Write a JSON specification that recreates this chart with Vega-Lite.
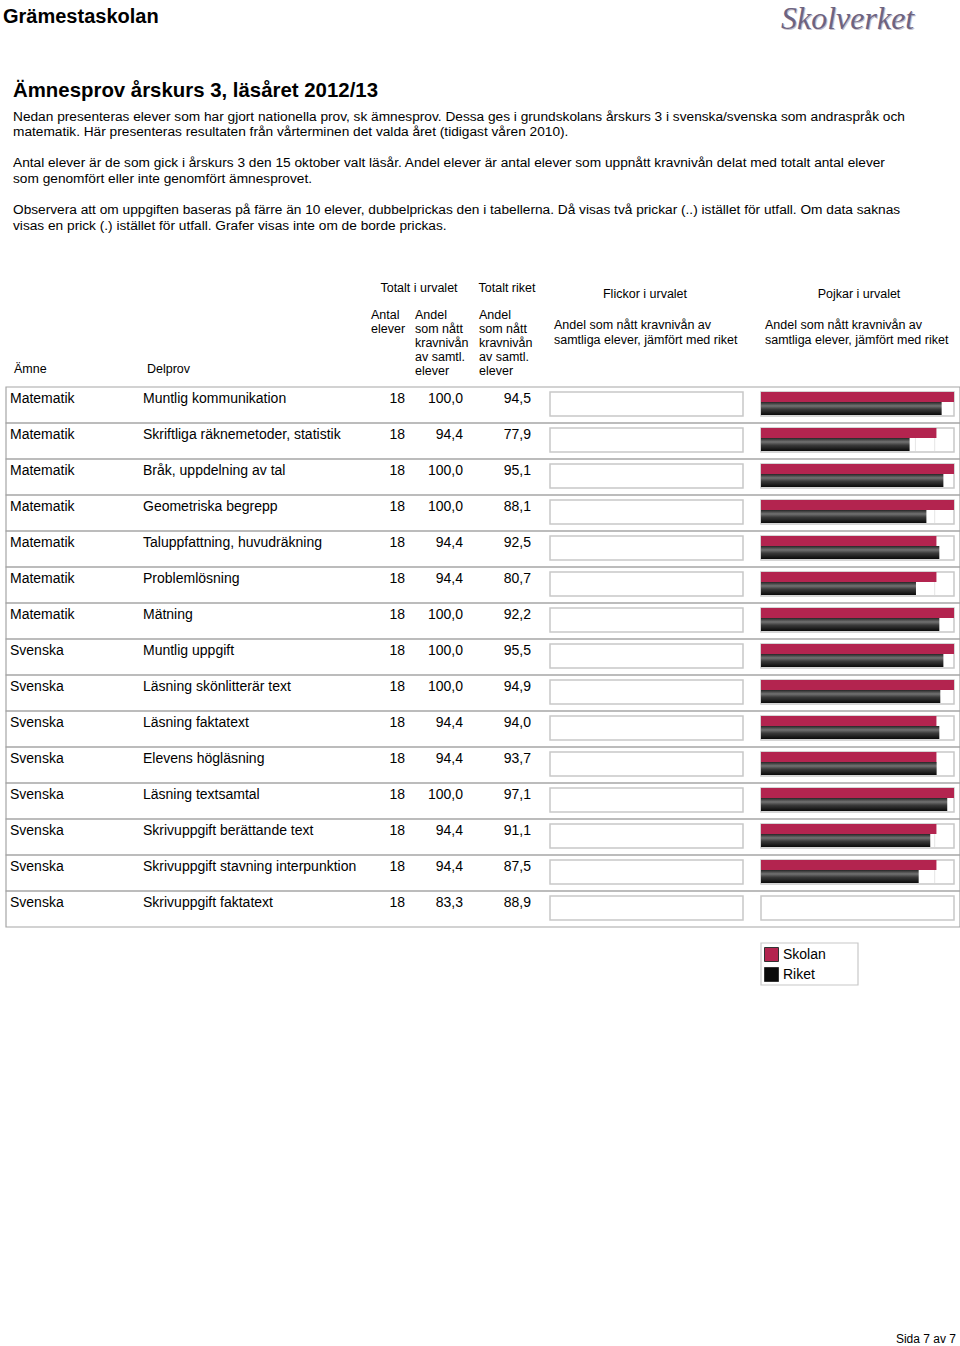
{
  "$schema": "https://vega.github.io/schema/vega-lite/v6.json",
  "width": 960,
  "height": 1346,
  "autosize": {"type": "fit", "contains": "padding"},
  "padding": 0,
  "background": "white",
  "config": {
    "view": {"stroke": null},
    "font": "Liberation Sans",
    "text": {"color": "#000"},
    "locale": {"number": {"decimal": ",", "thousands": " ", "grouping": [3], "currency": ["", " kr"]}}
  },
  "datasets": {
    "tabell": [
      {"nr": 1, "amne": "Matematik", "delprov": "Muntlig kommunikation", "antal": 18, "andel": 100.0, "riket": 94.5},
      {"nr": 2, "amne": "Matematik", "delprov": "Skriftliga räknemetoder, statistik", "antal": 18, "andel": 94.4, "riket": 77.9},
      {"nr": 3, "amne": "Matematik", "delprov": "Bråk, uppdelning av tal", "antal": 18, "andel": 100.0, "riket": 95.1},
      {"nr": 4, "amne": "Matematik", "delprov": "Geometriska begrepp", "antal": 18, "andel": 100.0, "riket": 88.1},
      {"nr": 5, "amne": "Matematik", "delprov": "Taluppfattning, huvudräkning", "antal": 18, "andel": 94.4, "riket": 92.5},
      {"nr": 6, "amne": "Matematik", "delprov": "Problemlösning", "antal": 18, "andel": 94.4, "riket": 80.7},
      {"nr": 7, "amne": "Matematik", "delprov": "Mätning", "antal": 18, "andel": 100.0, "riket": 92.2},
      {"nr": 8, "amne": "Svenska", "delprov": "Muntlig uppgift", "antal": 18, "andel": 100.0, "riket": 95.5},
      {"nr": 9, "amne": "Svenska", "delprov": "Läsning skönlitterär text", "antal": 18, "andel": 100.0, "riket": 94.9},
      {"nr": 10, "amne": "Svenska", "delprov": "Läsning faktatext", "antal": 18, "andel": 94.4, "riket": 94.0},
      {"nr": 11, "amne": "Svenska", "delprov": "Elevens högläsning", "antal": 18, "andel": 94.4, "riket": 93.7},
      {"nr": 12, "amne": "Svenska", "delprov": "Läsning textsamtal", "antal": 18, "andel": 100.0, "riket": 97.1},
      {"nr": 13, "amne": "Svenska", "delprov": "Skrivuppgift berättande text", "antal": 18, "andel": 94.4, "riket": 91.1},
      {"nr": 14, "amne": "Svenska", "delprov": "Skrivuppgift stavning interpunktion", "antal": 18, "andel": 94.4, "riket": 87.5},
      {"nr": 15, "amne": "Svenska", "delprov": "Skrivuppgift faktatext", "antal": 18, "andel": 83.3, "riket": 88.9}
    ],
    "pojkar": [
      {"nr": 1, "serie": "Skolan", "andel": 100.0}, {"nr": 1, "serie": "Riket", "andel": 93.6},
      {"nr": 2, "serie": "Skolan", "andel": 90.9}, {"nr": 2, "serie": "Riket", "andel": 77.0},
      {"nr": 3, "serie": "Skolan", "andel": 100.0}, {"nr": 3, "serie": "Riket", "andel": 94.5},
      {"nr": 4, "serie": "Skolan", "andel": 100.0}, {"nr": 4, "serie": "Riket", "andel": 85.7},
      {"nr": 5, "serie": "Skolan", "andel": 90.9}, {"nr": 5, "serie": "Riket", "andel": 92.4},
      {"nr": 6, "serie": "Skolan", "andel": 90.9}, {"nr": 6, "serie": "Riket", "andel": 80.3},
      {"nr": 7, "serie": "Skolan", "andel": 100.0}, {"nr": 7, "serie": "Riket", "andel": 92.4},
      {"nr": 8, "serie": "Skolan", "andel": 100.0}, {"nr": 8, "serie": "Riket", "andel": 94.5},
      {"nr": 9, "serie": "Skolan", "andel": 100.0}, {"nr": 9, "serie": "Riket", "andel": 92.9},
      {"nr": 10, "serie": "Skolan", "andel": 90.9}, {"nr": 10, "serie": "Riket", "andel": 92.4},
      {"nr": 11, "serie": "Skolan", "andel": 90.9}, {"nr": 11, "serie": "Riket", "andel": 91.0},
      {"nr": 12, "serie": "Skolan", "andel": 100.0}, {"nr": 12, "serie": "Riket", "andel": 96.5},
      {"nr": 13, "serie": "Skolan", "andel": 90.9}, {"nr": 13, "serie": "Riket", "andel": 87.7},
      {"nr": 14, "serie": "Skolan", "andel": 90.9}, {"nr": 14, "serie": "Riket", "andel": 81.7}
    ]
  },
  "resolve": {"scale": {"x": "independent"}},
  "layer": [
    {"data": {"values": [{}]}, "mark": {"type": "text", "text": "Grämestaskolan", "x": 2, "y": 16, "fontSize": 20, "fontWeight": "bold", "align": "left", "baseline": "middle"}, "encoding": {}},
    {"data": {"values": [{}]}, "mark": {"type": "text", "text": "Skolverket", "x": 781, "y": 19, "font": "Liberation Serif", "fontStyle": "italic", "fontSize": 32, "color": "#c4c0cc", "align": "left", "baseline": "middle"}, "encoding": {}},
    {"data": {"values": [{}]}, "mark": {"type": "text", "text": "Skolverket", "x": 780, "y": 18, "font": "Liberation Serif", "fontStyle": "italic", "fontSize": 32, "color": "#6d6380", "align": "left", "baseline": "middle"}, "encoding": {}},
    {"data": {"values": [{}]}, "mark": {"type": "text", "text": "Ämnesprov årskurs 3, läsåret 2012/13", "x": 12, "y": 90, "fontSize": 20.4, "fontWeight": "bold", "align": "left", "baseline": "middle"}, "encoding": {}},
    {"data": {"values": [{}]}, "mark": {"type": "text", "text": ["Nedan presenteras elever som har gjort nationella prov, sk ämnesprov. Dessa ges i grundskolans årskurs 3 i svenska/svenska som andraspråk och", "matematik. Här presenteras resultaten från vårterminen det valda året (tidigast våren 2010)."], "x": 12, "y": 119.5, "lineHeight": 15.5, "fontSize": 13.7, "align": "left", "baseline": "alphabetic"}, "encoding": {}},
    {"data": {"values": [{}]}, "mark": {"type": "text", "text": ["Antal elever är de som gick i årskurs 3 den 15 oktober valt läsår. Andel elever är antal elever som uppnått kravnivån delat med totalt antal elever", "som genomfört eller inte genomfört ämnesprovet."], "x": 12, "y": 166, "lineHeight": 15.5, "fontSize": 13.7, "align": "left", "baseline": "alphabetic"}, "encoding": {}},
    {"data": {"values": [{}]}, "mark": {"type": "text", "text": ["Observera att om uppgiften baseras på färre än 10 elever, dubbelprickas den i tabellerna. Då visas två prickar (..)  istället för utfall. Om data saknas", "visas en prick (.) istället för utfall. Grafer visas inte om de borde prickas."], "x": 12, "y": 212.5, "lineHeight": 16, "fontSize": 13.7, "align": "left", "baseline": "alphabetic"}, "encoding": {}},

    {"data": {"values": [{}]}, "mark": {"type": "text", "text": "Totalt i urvalet", "x": 418, "y": 287, "fontSize": 12.5, "align": "center", "baseline": "middle"}, "encoding": {}},
    {"data": {"values": [{}]}, "mark": {"type": "text", "text": "Totalt riket", "x": 506, "y": 287, "fontSize": 12.5, "align": "center", "baseline": "middle"}, "encoding": {}},
    {"data": {"values": [{}]}, "mark": {"type": "text", "text": "Flickor i urvalet", "x": 644, "y": 293, "fontSize": 12.5, "align": "center", "baseline": "middle"}, "encoding": {}},
    {"data": {"values": [{}]}, "mark": {"type": "text", "text": "Pojkar i urvalet", "x": 858, "y": 293, "fontSize": 12.5, "align": "center", "baseline": "middle"}, "encoding": {}},
    {"data": {"values": [{}]}, "mark": {"type": "text", "text": ["Antal", "elever"], "x": 370, "y": 317.5, "lineHeight": 14, "fontSize": 12.5, "align": "left", "baseline": "alphabetic"}, "encoding": {}},
    {"data": {"values": [{}]}, "mark": {"type": "text", "text": ["Andel", "som nått", "kravnivån", "av samtl.", "elever"], "x": 414, "y": 317.5, "lineHeight": 14, "fontSize": 12.5, "align": "left", "baseline": "alphabetic"}, "encoding": {}},
    {"data": {"values": [{}]}, "mark": {"type": "text", "text": ["Andel", "som nått", "kravnivån", "av samtl.", "elever"], "x": 478, "y": 317.5, "lineHeight": 14, "fontSize": 12.5, "align": "left", "baseline": "alphabetic"}, "encoding": {}},
    {"data": {"values": [{}]}, "mark": {"type": "text", "text": ["Andel som nått kravnivån av", "samtliga elever, jämfört med riket"], "x": 553, "y": 327.5, "lineHeight": 15, "fontSize": 12.5, "align": "left", "baseline": "alphabetic"}, "encoding": {}},
    {"data": {"values": [{}]}, "mark": {"type": "text", "text": ["Andel som nått kravnivån av", "samtliga elever, jämfört med riket"], "x": 764, "y": 327.5, "lineHeight": 15, "fontSize": 12.5, "align": "left", "baseline": "alphabetic"}, "encoding": {}},
    {"data": {"values": [{}]}, "mark": {"type": "text", "text": "Ämne", "x": 13, "y": 368, "fontSize": 12.5, "align": "left", "baseline": "middle"}, "encoding": {}},
    {"data": {"values": [{}]}, "mark": {"type": "text", "text": "Delprov", "x": 146, "y": 368, "fontSize": 12.5, "align": "left", "baseline": "middle"}, "encoding": {}},
    {"data": {"values": [{}]}, "mark": {"type": "text", "text": "Sida 7 av 7", "x": 955, "y": 1338, "fontSize": 12, "align": "right", "baseline": "middle"}, "encoding": {}},

    {"data": {"values": [{}]}, "mark": {"type": "rule", "x": 361, "x2": 959, "y": 275, "stroke": "#a6a6a6", "strokeWidth": 1.2}, "encoding": {}},
    {"data": {"values": [{}]}, "mark": {"type": "rule", "x": 361, "x2": 539, "y": 302, "stroke": "#a6a6a6", "strokeWidth": 1.2}, "encoding": {}},
    {"data": {"values": [{}]}, "mark": {"type": "rule", "x": 5, "x2": 361, "y": 331, "stroke": "#a6a6a6", "strokeWidth": 1.2}, "encoding": {}},
    {"data": {"values": [{}]}, "mark": {"type": "rule", "x": 5, "y": 331, "y2": 926, "stroke": "#a6a6a6", "strokeWidth": 1.2}, "encoding": {}},
    {"data": {"values": [{}]}, "mark": {"type": "rule", "x": 137, "y": 331, "y2": 926, "stroke": "#a6a6a6", "strokeWidth": 1.2}, "encoding": {}},
    {"data": {"values": [{}]}, "mark": {"type": "rule", "x": 361, "y": 275, "y2": 926, "stroke": "#a6a6a6", "strokeWidth": 1.2}, "encoding": {}},
    {"data": {"values": [{}]}, "mark": {"type": "rule", "x": 408, "y": 302, "y2": 926, "stroke": "#a6a6a6", "strokeWidth": 1.2}, "encoding": {}},
    {"data": {"values": [{}]}, "mark": {"type": "rule", "x": 473, "y": 275, "y2": 926, "stroke": "#a6a6a6", "strokeWidth": 1.2}, "encoding": {}},
    {"data": {"values": [{}]}, "mark": {"type": "rule", "x": 539, "y": 275, "y2": 926, "stroke": "#a6a6a6", "strokeWidth": 1.2}, "encoding": {}},
    {"data": {"values": [{}]}, "mark": {"type": "rule", "x": 750, "y": 275, "y2": 926, "stroke": "#a6a6a6", "strokeWidth": 1.2}, "encoding": {}},
    {"data": {"values": [{}]}, "mark": {"type": "rule", "x": 959, "y": 275, "y2": 926, "stroke": "#a6a6a6", "strokeWidth": 1.2}, "encoding": {}},

    {"data": {"values": [{}]}, "mark": {"type": "rect", "x": 760, "x2": 857, "y": 942, "y2": 984, "fill": "white", "stroke": "#c8c8c8", "strokeWidth": 1.2}, "encoding": {}},

    {"data": {"name": "tabell"},
     "mark": {"type": "rect", "filled": false, "stroke": "#a6a6a6", "strokeWidth": 1.2},
     "encoding": {
       "y": {"field": "nr", "type": "ordinal", "scale": {"type": "band", "domain": [1,2,3,4,5,6,7,8,9,10,11,12,13,14,15], "range": [386, 926], "paddingInner": 0, "paddingOuter": 0}, "axis": null},
       "x": {"datum": 0, "type": "quantitative", "scale": {"domain": [0, 1], "range": [5, 959]}, "axis": null},
       "x2": {"datum": 1}
     }},

    {"data": {"name": "tabell"}, "mark": {"type": "text", "x": 9, "dy": -6, "fontSize": 14, "align": "left", "baseline": "middle"},
     "encoding": {"y": {"field": "nr", "type": "ordinal", "scale": {"type": "band", "domain": [1,2,3,4,5,6,7,8,9,10,11,12,13,14,15], "range": [386, 926], "paddingInner": 0, "paddingOuter": 0}, "axis": null},
                  "text": {"field": "amne", "type": "nominal"}}},
    {"data": {"name": "tabell"}, "mark": {"type": "text", "x": 142, "dy": -6, "fontSize": 14, "align": "left", "baseline": "middle"},
     "encoding": {"y": {"field": "nr", "type": "ordinal", "scale": {"type": "band", "domain": [1,2,3,4,5,6,7,8,9,10,11,12,13,14,15], "range": [386, 926], "paddingInner": 0, "paddingOuter": 0}, "axis": null},
                  "text": {"field": "delprov", "type": "nominal"}}},
    {"data": {"name": "tabell"}, "mark": {"type": "text", "x": 404, "dy": -6, "fontSize": 14, "align": "right", "baseline": "middle"},
     "encoding": {"y": {"field": "nr", "type": "ordinal", "scale": {"type": "band", "domain": [1,2,3,4,5,6,7,8,9,10,11,12,13,14,15], "range": [386, 926], "paddingInner": 0, "paddingOuter": 0}, "axis": null},
                  "text": {"field": "antal", "type": "quantitative", "format": "d"}}},
    {"data": {"name": "tabell"}, "mark": {"type": "text", "x": 462, "dy": -6, "fontSize": 14, "align": "right", "baseline": "middle"},
     "encoding": {"y": {"field": "nr", "type": "ordinal", "scale": {"type": "band", "domain": [1,2,3,4,5,6,7,8,9,10,11,12,13,14,15], "range": [386, 926], "paddingInner": 0, "paddingOuter": 0}, "axis": null},
                  "text": {"field": "andel", "type": "quantitative", "format": ".1f"}}},
    {"data": {"name": "tabell"}, "mark": {"type": "text", "x": 530, "dy": -6, "fontSize": 14, "align": "right", "baseline": "middle"},
     "encoding": {"y": {"field": "nr", "type": "ordinal", "scale": {"type": "band", "domain": [1,2,3,4,5,6,7,8,9,10,11,12,13,14,15], "range": [386, 926], "paddingInner": 0, "paddingOuter": 0}, "axis": null},
                  "text": {"field": "riket", "type": "quantitative", "format": ".1f"}}},

    {"data": {"name": "tabell"},
     "mark": {"type": "bar", "height": 24, "yOffset": -1, "fill": "white", "stroke": "#c8c8c8", "strokeWidth": 1.5},
     "encoding": {
       "y": {"field": "nr", "type": "ordinal", "scale": {"type": "band", "domain": [1,2,3,4,5,6,7,8,9,10,11,12,13,14,15], "range": [386, 926], "paddingInner": 0, "paddingOuter": 0}, "axis": null},
       "x": {"datum": 0, "type": "quantitative", "scale": {"domain": [0, 100], "range": [549, 742]}, "axis": null},
       "x2": {"datum": 100}
     }},
    {"data": {"name": "tabell"},
     "mark": {"type": "bar", "height": 24, "yOffset": -1, "fill": "white", "stroke": "#c8c8c8", "strokeWidth": 1.5},
     "encoding": {
       "y": {"field": "nr", "type": "ordinal", "scale": {"type": "band", "domain": [1,2,3,4,5,6,7,8,9,10,11,12,13,14,15], "range": [386, 926], "paddingInner": 0, "paddingOuter": 0}, "axis": null},
       "x": {"datum": 0, "type": "quantitative", "scale": {"domain": [0, 100], "range": [760, 953]}, "axis": null},
       "x2": {"datum": 100}
     }},
    {"data": {"name": "pojkar"},
     "transform": [{"filter": "datum.serie == 'Riket'"}],
     "mark": {"type": "tick", "color": "#dadada", "size": 23, "thickness": 1, "yOffset": -1},
     "encoding": {
       "y": {"field": "nr", "type": "ordinal", "scale": {"type": "band", "domain": [1,2,3,4,5,6,7,8,9,10,11,12,13,14,15], "range": [386, 926], "paddingInner": 0, "paddingOuter": 0}, "axis": null},
       "x": {"datum": 80, "type": "quantitative", "scale": {"domain": [0, 100], "range": [760, 953]}, "axis": null}
     }},
    {"data": {"name": "pojkar"},
     "transform": [{"filter": "datum.serie == 'Riket'"}],
     "mark": {"type": "tick", "color": "#dadada", "size": 23, "thickness": 1, "yOffset": -1},
     "encoding": {
       "y": {"field": "nr", "type": "ordinal", "scale": {"type": "band", "domain": [1,2,3,4,5,6,7,8,9,10,11,12,13,14,15], "range": [386, 926], "paddingInner": 0, "paddingOuter": 0}, "axis": null},
       "x": {"datum": 90, "type": "quantitative", "scale": {"domain": [0, 100], "range": [760, 953]}, "axis": null}
     }},
    {"data": {"name": "pojkar"},
     "transform": [{"filter": "datum.serie == 'Skolan'"}],
     "mark": {"type": "bar", "height": 10, "yOffset": -8},
     "encoding": {
       "y": {"field": "nr", "type": "ordinal", "scale": {"type": "band", "domain": [1,2,3,4,5,6,7,8,9,10,11,12,13,14,15], "range": [386, 926], "paddingInner": 0, "paddingOuter": 0}, "axis": null},
       "x": {"field": "andel", "type": "quantitative", "scale": {"domain": [0, 100], "range": [760, 953]}, "axis": null},
       "color": {"field": "serie", "type": "nominal",
                 "scale": {"domain": ["Skolan", "Riket"], "range": ["#b3244f", "#0a0a0a"]},
                 "legend": {"orient": "none", "legendX": 760, "legendY": 943, "title": null,
                            "symbolType": "square", "symbolSize": 196, "symbolStrokeColor": "#333", "symbolStrokeWidth": 1,
                            "labelFontSize": 14, "labelFont": "Liberation Sans", "labelColor": "#000",
                            "padding": 3, "rowPadding": 1, "labelOffset": 4}}
     }},
    {"data": {"name": "pojkar"},
     "transform": [{"filter": "datum.serie == 'Riket'"}],
     "mark": {"type": "bar", "height": 13, "yOffset": 3.5,
              "color": {"gradient": "linear", "x1": 0, "y1": 0, "x2": 0, "y2": 1,
                        "stops": [{"offset": 0, "color": "#262626"}, {"offset": 0.3, "color": "#727272"}, {"offset": 0.55, "color": "#3a3a3a"}, {"offset": 1, "color": "#0a0a0a"}]}},
     "encoding": {
       "y": {"field": "nr", "type": "ordinal", "scale": {"type": "band", "domain": [1,2,3,4,5,6,7,8,9,10,11,12,13,14,15], "range": [386, 926], "paddingInner": 0, "paddingOuter": 0}, "axis": null},
       "x": {"field": "andel", "type": "quantitative", "scale": {"domain": [0, 100], "range": [760, 953]}, "axis": null}
     }}
  ]
}
